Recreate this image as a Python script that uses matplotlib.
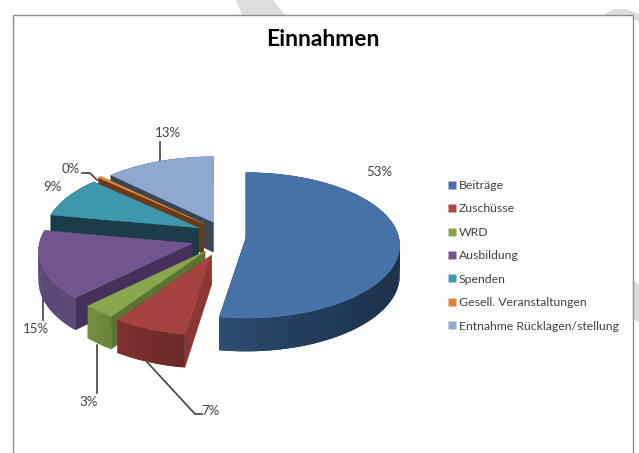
import matplotlib
matplotlib.use("Agg")
import matplotlib.pyplot as plt
import numpy as np
from matplotlib.collections import PolyCollection
from matplotlib.colors import to_rgb
from matplotlib.lines import Line2D
from matplotlib.patches import Polygon, Rectangle

plt.rcParams["font.family"] = ["Lato", "DejaVu Sans"]

categories = ["Beiträge", "Zuschüsse", "WRD", "Ausbildung", "Spenden",
              "Gesell. Veranstaltungen", "Entnahme Rücklagen/stellung"]
values = [52.5, 7.0, 3.1, 15.3, 9.0, 0.4, 12.7]

legend_colors = ["#4672A8", "#AA4643", "#89A54E", "#71588F", "#4198AF", "#DB843D", "#93A9CF"]
top_colors = ["#4672A8", "#A5413F", "#8AA64E", "#72558F", "#3F97AE", "#E58A3A", "#8FA8D0"]
wall_colors = ["#1C3047", "#8A3634", "#5C7332", "#44305A", "#1A3D49", "#6A3A14", "#3A4558"]
rim_start = ["#1A2E45", "#6A2A28", "#6A8539", "#5E4A78", "#1A3D49", "#6A3A14", "#3A4558"]
rim_end = ["#2C4D72", "#7E302E", "#748F42", "#5A4672", "#1A3D49", "#6A3A14", "#3A4558"]
rim_power = [4, 1, 1, 1, 1, 1, 1]
explode = [25, 26, 25, 30, 25, 24, 20]
draw_order = [6, 0, 5, 4, 3, 2, 1]

# pixel layout of the projected pie
CX, CY = 221, 236.5
RX, RY = 153, 72
PERSP = 0.1
DEPTH = 30
EXPLODE_Y = 0.78


def project(theta, apex):
    u, v = np.sin(theta), np.cos(theta)
    s = 1 / (1 + PERSP * v)
    return apex[0] + RX * u * s, apex[1] - RY * v * s, DEPTH * s


def draw_slice(ax, start, end, i, z):
    mid = (start + end) / 2
    apex = (CX + explode[i] * np.sin(mid),
            CY - explode[i] * EXPLODE_Y * np.cos(mid))
    thetas = np.linspace(start, end, max(int((end - start) * 60), 4))
    x, y, d = project(thetas, apex)

    # radial walls
    for k in (0, -1):
        wall = [apex, (x[k], y[k]), (x[k], y[k] + d[k]), (apex[0], apex[1] + DEPTH)]
        ax.add_patch(Polygon(wall, closed=True, fc=wall_colors[i], ec=wall_colors[i], lw=0.3, zorder=z))

    # outer rim, shaded along the arc; quads overlap so no seams show
    c0, c1 = np.array(to_rgb(rim_start[i])), np.array(to_rgb(rim_end[i]))
    quads, cols = [], []
    for k in range(len(thetas) - 1):
        j = min(k + 2, len(thetas) - 1)
        quads.append([(x[k], y[k]), (x[j], y[j]), (x[j], y[j] + d[j]), (x[k], y[k] + d[k])])
        f = (k / max(len(thetas) - 2, 1)) ** rim_power[i]
        cols.append(c0 + (c1 - c0) * f)
    ax.add_collection(PolyCollection(quads, facecolors=cols, edgecolors="none", zorder=z))

    top = [apex] + list(zip(x, y))
    ax.add_patch(Polygon(top, closed=True, fc=top_colors[i], ec=top_colors[i], lw=0.3, zorder=z + 0.5))


fig = plt.figure(figsize=(6.39, 4.53), dpi=100)
ax = fig.add_axes([0, 0, 1, 1])
ax.set_xlim(0, 639)
ax.set_ylim(453, 0)
ax.axis("off")

# faint watermark strokes behind the page
wm = "#DCDCDC"
ax.add_patch(Polygon([(236, 0), (273, 0), (285, 15), (242, 15)], closed=True, fc=wm, ec="none", zorder=0))
ax.add_patch(Polygon([(603, 15), (614, 9), (626, 9), (639, 14), (639, 22), (633, 18), (633, 15)],
                     closed=True, fc=wm, ec="none", zorder=0))
ax.add_patch(Polygon([(633, 280), (639, 285), (639, 323), (633, 318)], closed=True, fc=wm, ec="none", zorder=0))

ax.add_patch(Rectangle((12.5, 15), 620.5, 450, fc="white", ec="#8C8C8C", lw=1.0, zorder=1))

ax.text(323, 40, "Einnahmen", ha="center", va="center", fontsize=16.5, fontweight="bold", color="black", zorder=5)

# slices
fractions = np.array(values) / sum(values) * 2 * np.pi
edges = np.concatenate([[0], np.cumsum(fractions)])
for n, i in enumerate(draw_order):
    draw_slice(ax, edges[i], edges[i + 1], i, 2 + n)

# leader lines
leaders = [
    [(160, 142), (160, 165)],
    [(82, 173), (90, 173), (97, 180)],
    [(43, 295), (43, 320)],
    [(97, 345), (97, 393)],
    [(147, 362), (195, 414), (202, 414)],
]
for pts in leaders:
    xs, ys = zip(*pts)
    ax.plot(xs, ys, color="#404040", lw=1.2, zorder=1.5)

# percent labels
label_pos = [(379, 172), (210, 411), (89, 402), (36, 329), (52, 187), (71, 169), (168, 133)]
for val, (lx, ly) in zip(values, label_pos):
    ax.text(lx, ly, f"{int(val + 0.5)}%", ha="center", va="center",
            fontsize=9.5, color="#404040", zorder=20)

handles = [Line2D([], [], marker="s", ls="none", ms=5.5, color=c, mec="none") for c in legend_colors]
ax.legend(handles, categories, loc="upper left", bbox_to_anchor=(446 / 639, 1 - 180 / 453),
          frameon=False, fontsize=8.83, labelspacing=1.014, handletextpad=0.06,
          handlelength=1.0, borderpad=0, borderaxespad=0, labelcolor="#404040")

fig.savefig("out.png", dpi=100)
